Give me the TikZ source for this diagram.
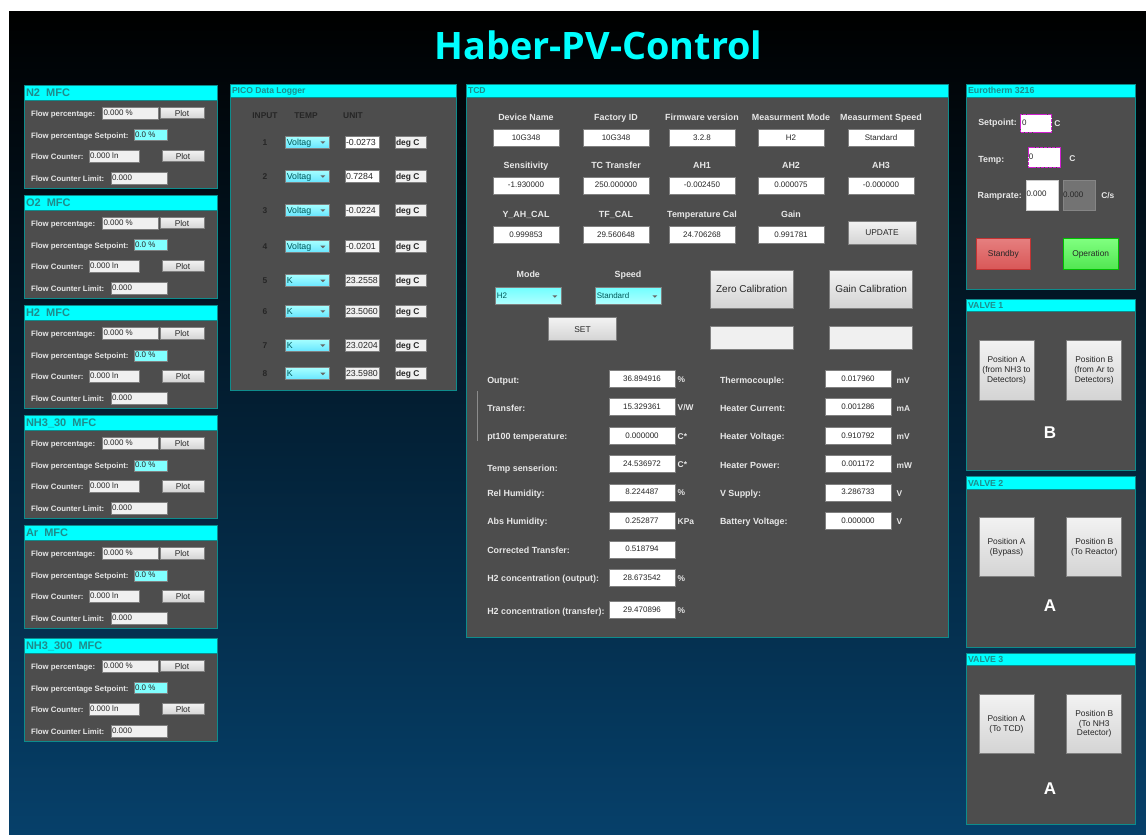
\documentclass[tikz,border=0pt]{standalone}
\usepackage{fontspec}
\setmainfont{Liberation Sans}
\newfontfamily\titlefont{Open Sans}
\usetikzlibrary{calc}
\definecolor{PanelGray}{HTML}{4D4D4D}
\definecolor{PanelLine}{HTML}{0E8C8C}
\definecolor{HeadCyan}{HTML}{00FFFF}
\definecolor{HeadText}{HTML}{1F8C8C}
\definecolor{LabelText}{HTML}{E8E8E8}
\definecolor{DarkText}{HTML}{262626}
\definecolor{BoxLine}{HTML}{808080}
\definecolor{PageBlue}{HTML}{06406A}
\definecolor{MagentaLine}{HTML}{D020D0}
\def\MfcLeft{24}
\def\MfcRight{217}
\def\MfcHeight{103}
\def\PicoNum{265}
\def\TcdLeftBox{642}
\def\TcdRightBox{858}
\tikzset{
  every node/.style={inner sep=0pt, outer sep=0pt},
  fieldtext/.style={font=\fontsize{8}{9.6}\selectfont, text=DarkText, text height=6, text depth=1.5},
  picotext/.style={fieldtext, font=\fontsize{8.8}{10}\selectfont, yshift=-.5pt},
  paneltext/.style={font=\bfseries\fontsize{7.8}{9.6}\selectfont, text=LabelText, text height=6, text depth=1.5, yshift=-.8pt},
  tcdlabel/.style={paneltext, font=\bfseries\fontsize{8.9}{10}\selectfont},
  darklabel/.style={font=\bfseries\fontsize{8.4}{10}\selectfont, text=DarkText, text height=6, text depth=1.5, yshift=-.8pt},
  unittext/.style={tcdlabel, font=\bfseries\fontsize{8.4}{10}\selectfont, anchor=west},
  fieldbox/.style={draw=BoxLine, fill=white, line width=.9pt},
  grayfield/.style={fieldbox, fill=black!6},
  cyanfield/.style={fieldbox, fill=HeadCyan!50},
  pushbutton/.style={draw=BoxLine, line width=.9pt, top color=black!5, bottom color=black!17,
    font=\fontsize{8.4}{9.7}\selectfont, text=DarkText, align=center},
  calbutton/.style={pushbutton, font=\fontsize{10}{11}\selectfont, minimum width=83, minimum height=38},
  valvebutton/.style={pushbutton, minimum width=55, minimum height=59.5},
  valveletter/.style={font=\bfseries\fontsize{17}{17}\selectfont, text=white},
  picocombo/.style={draw=BoxLine, line width=.9pt, top color=cyan!35!white, bottom color=cyan!55!white!90!blue,
    minimum width=44, minimum height=12, anchor=west},
  tcdcombo/.style={draw=BoxLine, line width=.9pt, top color=HeadCyan!55, bottom color=HeadCyan!30!white,
    minimum width=66, minimum height=17, anchor=west},
  magentafield/.style={draw=MagentaLine, fill=white, line width=1.2pt, dash pattern=on 3.5pt off .6pt},
}
% panel: name, left, top, right, header bottom, bottom, title, title size
\newcommand{\Panel}[8]{
  \draw[PanelLine, fill=PanelGray, line width=.9pt] (#2,#3) rectangle (#4,#6);
  \draw[PanelLine, fill=HeadCyan, line width=.9pt] (#2,#3) rectangle (#4,#5);
  \node[anchor=west, text=HeadText, text height=.72*#8, text depth=0, font=\bfseries\fontsize{#8}{#8}\selectfont] (#1)
    at ($(#2,#3)!.5!(#2,#5)+(2,0)$) {#7};
}
% little arrow of a combo box
\newcommand{\ComboArrow}[1]{
  \fill[black!60] ($(#1.east)+(-9,-1)$) -- ++(5,0) -- ++(-2.5,2.5) -- cycle;
}

\begin{document}
\begin{tikzpicture}[x=1pt,y=-1pt]
  \useasboundingbox (0,0) rectangle (1146,835);
  \shade[top color=black, bottom color=PageBlue] (9,11) rectangle (1146,835);
  \node[font=\titlefont\bfseries\fontsize{37.8}{38}\selectfont, text=HeadCyan] (title) at (598.5,45) {Haber-PV-Control};

  % mass flow controllers
  \foreach \i/\gas/\ytop in {1/N2/85,2/O2/195,3/H2/305.5,4/NH3\_30/415.5,5/Ar/525.5,6/NH3\_300/638} {
    \Panel{mfc\i}{\MfcLeft}{\ytop}{\MfcRight}{\ytop+15}{\ytop+\MfcHeight}{\gas\ \ MFC}{11}
    \node[paneltext, anchor=west] (pct\i) at (31,\ytop+28) {Flow percentage:};
    \node[grayfield, anchor=west, minimum width=56, minimum height=12] (pctbox\i) at (102.5,\ytop+28) {};
    \node[fieldtext, anchor=west] at ($(pctbox\i.west)+(1,0)$) {0.000 \%};
    \node[pushbutton, anchor=west, minimum width=44, minimum height=11.5] (pctplot\i) at (160,\ytop+28) {Plot};
    \node[paneltext, anchor=west] (set\i) at (31,\ytop+50) {Flow percentage Setpoint:};
    \node[cyanfield, anchor=west, minimum width=33, minimum height=11] (setbox\i) at (134,\ytop+50) {};
    \node[fieldtext, anchor=west] at ($(setbox\i.west)+(1,0)$) {0.0 \%};
    \node[paneltext, anchor=west] (cnt\i) at (31,\ytop+71) {Flow Counter:};
    \node[grayfield, anchor=west, minimum width=50, minimum height=12] (cntbox\i) at (89,\ytop+71) {};
    \node[fieldtext, anchor=west] at ($(cntbox\i.west)+(1,0)$) {0.000 ln};
    \node[pushbutton, anchor=west, minimum width=42, minimum height=11.5] (cntplot\i) at (162,\ytop+71) {Plot};
    \node[paneltext, anchor=west] (lim\i) at (31,\ytop+93) {Flow Counter Limit:};
    \node[grayfield, anchor=west, minimum width=56, minimum height=12] (limbox\i) at (111,\ytop+93) {};
    \node[fieldtext, anchor=west] at ($(limbox\i.west)+(1,0)$) {0.000};
  }

  % data logger
  \Panel{pico}{230}{84.5}{456}{97}{390.5}{PICO Data Logger}{8.6}
  \node[darklabel] (input) at (\PicoNum,115.7) {INPUT};
  \node[darklabel] (temp) at (306,115.7) {TEMP};
  \node[darklabel] (unit) at (353,115.7) {UNIT};
  \foreach \i/\ypos/\kind/\val/\back in {1/142.3/Voltag/-0.0273/white,2/176.3/Voltag/0.7284/white,
      3/210.3/Voltag/-0.0224/black!4,4/246.7/Voltag/-0.0201/black!4,5/280.7/K/23.2558/black!6,
      6/311.3/K/23.5060/black!6,7/345.3/K/23.0204/black!6,8/373.7/K/23.5980/black!6} {
    \node[darklabel] (num\i) at (\PicoNum,\ypos) {\i};
    \node[picocombo] (combo\i) at (285.3,\ypos) {};
    \node[picotext, text=black!30!teal, anchor=west] at ($(combo\i.west)+(1.5,0)$) {\kind};
    \ComboArrow{combo\i}
    \node[fieldbox, fill=\back, anchor=west, minimum width=33.5, minimum height=12] (val\i) at (345.5,\ypos) {};
    \node[picotext, anchor=west] at ($(val\i.west)+(.5,0)$) {\val};
    \node[grayfield, anchor=west, minimum width=30.5, minimum height=12] (deg\i) at (395.5,\ypos) {};
    \node[darklabel, anchor=west] at ($(deg\i.west)+(.5,0)$) {deg C};
  }

  % thermal conductivity detector
  \Panel{tcd}{466}{84.5}{948}{97}{637}{TCD}{8.6}
  \foreach \i/\xpos/\lab/\val in {1/526/Device Name/10G348,2/616/Factory ID/10G348,3/702/Firmware version/3.2.8,
      4/791/Measurment Mode/H2,5/881/Measurment Speed/Standard} {
    \node[tcdlabel] (head\i) at (\xpos,117.3) {\lab};
    \node[fieldbox, fieldtext, minimum width=66, minimum height=17] (info\i) at (\xpos,138) {\val};
  }
  \foreach \i/\xpos/\lab/\val in {1/526/Sensitivity/-1.930000,2/616/TC Transfer/250.000000,3/702/AH1/-0.002450,
      4/791/AH2/0.000075,5/881/AH3/-0.000000} {
    \node[tcdlabel] (calhead\i) at (\xpos,165) {\lab};
    \node[fieldbox, fieldtext, minimum width=66, minimum height=17] (cal\i) at (\xpos,185.5) {\val};
  }
  \foreach \i/\xpos/\lab/\val in {1/526/Y\_AH\_CAL/0.999853,2/616/TF\_CAL/29.560648,3/702/Temperature Cal/24.706268,
      4/791/Gain/0.991781} {
    \node[tcdlabel] (gainhead\i) at (\xpos,214.3) {\lab};
    \node[fieldbox, fieldtext, minimum width=66, minimum height=17] (gain\i) at (\xpos,235.3) {\val};
  }
  \node[pushbutton, minimum width=68, minimum height=23] (update) at (882,232.8) {UPDATE};
  \node[tcdlabel] (mode) at (528.3,274) {Mode};
  \node[tcdlabel] (speed) at (628,274) {Speed};
  \node[tcdcombo] (modebox) at (495.3,296.3) {};
  \node[fieldtext, anchor=west, text=black!30!teal] at ($(modebox.west)+(1.5,0)$) {H2};
  \ComboArrow{modebox}
  \node[tcdcombo] (speedbox) at (595.3,296.3) {};
  \node[fieldtext, anchor=west, text=black!30!teal] at ($(speedbox.west)+(1.5,0)$) {Standard};
  \ComboArrow{speedbox}
  \node[pushbutton, minimum width=68, minimum height=23] (setbtn) at (582.5,329.2) {SET};
  \node[calbutton] (zero) at (751.7,289.3) {Zero Calibration};
  \node[calbutton] (gaincal) at (871.2,289.3) {Gain Calibration};
  \node[grayfield, minimum width=83, minimum height=23] (zerobox) at (751.7,338.3) {};
  \node[grayfield, minimum width=83, minimum height=23] (gainbox) at (871.2,338.3) {};
  % readings, left column
  \foreach \i/\ylab/\ybox/\lab/\val/\un in {1/380/379.3/Output:/36.894916/\%,2/408.3/407.3/Transfer:/15.329361/{V/W},
      3/436.7/436/pt100 temperature:/0.000000/C*,4/468.7/464.3/Temp senserion:/24.536972/C*,
      5/493.3/492.7/Rel Humidity:/8.224487/\%,6/521.7/521/Abs Humidity:/0.252877/KPa,
      7/550/549.7/Corrected Transfer:/0.518794/{},8/578.3/578/H2 concentration (output):/28.673542/\%,
      9/611.3/610.3/H2 concentration (transfer):/29.470896/\%} {
    \node[tcdlabel, anchor=west] (leftlab\i) at (487.3,\ylab) {\lab};
    \node[fieldbox, fieldtext, minimum width=66, minimum height=17] (leftbox\i) at (\TcdLeftBox,\ybox) {\val};
    \node[unittext] at (677.7,\ybox) {\un};
  }
  % readings, right column
  \foreach \i/\ylab/\ybox/\lab/\val/\un in {1/380/379.3/Thermocouple:/0.017960/mV,2/408.3/407.3/Heater Current:/0.001286/mA,
      3/436.7/436/Heater Voltage:/0.910792/mV,4/465.3/464.3/Heater Power:/0.001172/mW,
      5/493.3/492.7/V Supply:/3.286733/V,6/521.7/521/Battery Voltage:/0.000000/V} {
    \node[tcdlabel, anchor=west] (rightlab\i) at (720,\ylab) {\lab};
    \node[fieldbox, fieldtext, minimum width=66, minimum height=17] (rightbox\i) at (\TcdRightBox,\ybox) {\val};
    \node[unittext] at (896.7,\ylab) {\un};
  }
  \draw[black!45, line width=.7pt] (477.3,391) -- (477.3,440.7);

  % furnace controller
  \Panel{euro}{966}{84.5}{1135.7}{97}{289}{Eurotherm 3216}{8.8}
  \node[tcdlabel, anchor=west] (setpoint) at (978.3,122.3) {Setpoint:};
  \node[magentafield, anchor=west, minimum width=31, minimum height=17.5] (setpointbox) at (1020.7,123.5) {};
  \node[fieldtext, anchor=west] at ($(setpointbox.west)+(1.5,0)$) {0};
  \node[unittext] at (1054.3,123) {C};
  \node[tcdlabel, anchor=west] (tempnow) at (978.3,159) {Temp:};
  \node[magentafield, anchor=west, minimum width=32.5, minimum height=19.5] (tempbox) at (1028.3,157.5) {};
  \node[fieldtext, anchor=west] at ($(tempbox.west)+(.5,0)$) {0};
  \node[unittext] at (1069.3,158) {C};
  \node[tcdlabel, anchor=west] (ramp) at (977.7,195.3) {Ramprate:};
  \node[draw=black!20, fill=white, anchor=west, minimum width=32, minimum height=30] (rampbox) at (1026,195) {};
  \node[fieldtext, anchor=west] at ($(rampbox.west)+(.5,-1)$) {0.000};
  \node[draw=black!48, fill=black!55, anchor=west, minimum width=32.5, minimum height=30] (rampread) at (1062.7,195) {};
  \node[fieldtext, anchor=west] at ($(rampread.west)+(.5,0)$) {0.000};
  \node[unittext] at (1101.3,195.5) {C/s};
  \node[draw=red!70!black!80, line width=.9pt, top color=red!45!white!90!black, bottom color=red!60!white!85!black,
    font=\fontsize{8.4}{10}\selectfont, text=DarkText, minimum width=54.5, minimum height=31] (standby) at (1003.3,254.4) {Standby};
  \node[draw=green!75!black, line width=.9pt, top color=green!50!white, bottom color=green!65!white!90!black,
    font=\fontsize{8.4}{10}\selectfont, text=DarkText, minimum width=54.5, minimum height=31] (operation) at (1090.7,254.4) {Operation};

  % valves
  \Panel{valveone}{966}{299.3}{1135.7}{311.7}{470.5}{VALVE 1}{8.8}
  \node[valvebutton] (valveonea) at (1006.5,370.3) {Position A\\(from NH3 to\\Detectors)};
  \node[valvebutton] (valveoneb) at (1094.2,370.3) {Position B\\(from Ar to\\Detectors)};
  \node[valveletter] (valveonepos) at (1050,432.7) {B};
  \Panel{valvetwo}{966}{476.7}{1135.7}{489}{647.7}{VALVE 2}{8.8}
  \node[valvebutton] (valvetwoa) at (1006.5,547) {Position A\\(Bypass)};
  \node[valvebutton] (valvetwob) at (1094.2,547) {Position B\\(To Reactor)};
  \node[valveletter] (valvetwopos) at (1050,606) {A};
  \Panel{valvethree}{966}{653.3}{1135.7}{665.7}{824.3}{VALVE 3}{8.8}
  \node[valvebutton] (valvethreea) at (1006.5,724) {Position A\\(To TCD)};
  \node[valvebutton] (valvethreeb) at (1094.2,724) {Position B\\(To NH3\\Detector)};
  \node[valveletter] (valvethreepos) at (1050,788.3) {A};
\end{tikzpicture}
\end{document}
